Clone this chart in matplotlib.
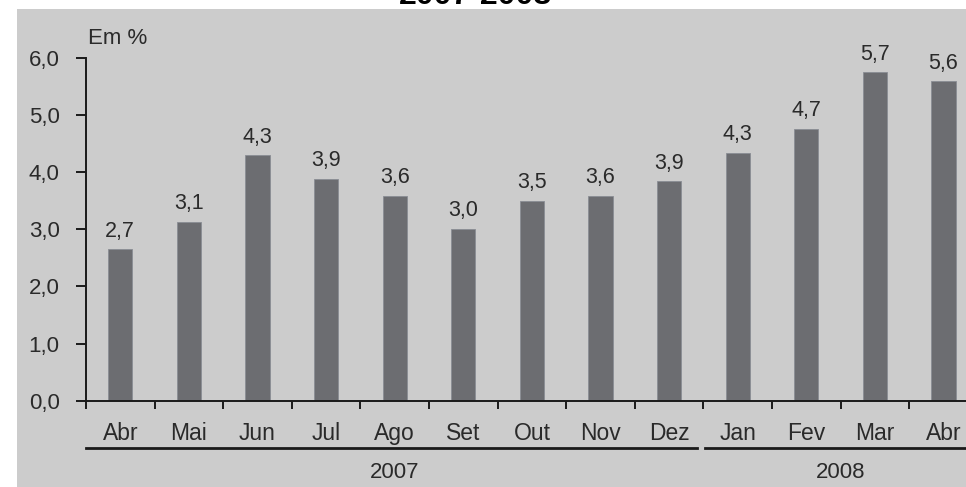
import matplotlib
matplotlib.use("Agg")
import matplotlib.pyplot as plt
from matplotlib.patches import Rectangle
from matplotlib.lines import Line2D
import matplotlib.transforms as mtransforms

plt.rcParams['font.family'] = ['Liberation Sans', 'DejaVu Sans']

# dados
meses = ["Abr", "Mai", "Jun", "Jul", "Ago", "Set", "Out", "Nov", "Dez",
         "Jan", "Fev", "Mar", "Abr"]
valores = [2.65, 3.13, 4.3, 3.89, 3.59, 3.01, 3.5, 3.59, 3.84,
           4.34, 4.76, 5.75, 5.59]
rotulos = ["2,7", "3,1", "4,3", "3,9", "3,6", "3,0", "3,5", "3,6", "3,9",
           "4,3", "4,7", "5,7", "5,6"]
anos = ["2007", "2008"]
n_meses_ano = [9, 4]
yticks = [0, 1, 2, 3, 4, 5, 6]

W, H = 966, 487
fig = plt.figure(figsize=(W / 100, H / 100), dpi=100)
fig.patch.set_facecolor("white")

# fundo cinza
fig.patches.append(Rectangle((17 / W, 0), 1 - 17 / W, 1 - 9 / H,
                             transform=fig.transFigure, facecolor="#cccccc",
                             edgecolor="none", zorder=-5))

# titulo cortado no topo (so a parte de baixo aparece)
fig.text(476 / W, 1 - 4 / H, "2007-2008", ha="center", va="baseline",
         fontsize=23, fontweight="bold", color="black")

step = 68.6
ax = fig.add_axes([86 / W, 1 - 400.7 / H, 13 * step / W, (400.7 - 58) / H])
ax.set_facecolor("none")
ax.set_zorder(2)

x = list(range(len(meses)))
cor_barra = "#6c6d71"
ax.bar(x, valores, width=0.35, color=cor_barra, edgecolor="#8a8d94",
       linewidth=0.6, zorder=2)

for xi, v, r in zip(x, valores, rotulos):
    ax.annotate(r, (xi, v), xytext=(0, 9), textcoords="offset points",
                ha="center", va="baseline", fontsize=15.5, color="#2a2a2a")

ax.set_xlim(-0.5, len(meses) - 0.5)
ax.set_ylim(0, 6)
ax.set_yticks(yticks)
ax.set_yticklabels([f"{t:.1f}".replace(".", ",") for t in yticks])

ax.set_xticks(x)
ax.set_xticklabels(meses)
ax.set_xticks([i - 0.5 for i in range(len(meses) + 1)], minor=True)

for s in ["top", "right"]:
    ax.spines[s].set_visible(False)
for s in ["left", "bottom"]:
    ax.spines[s].set_color("#1a1a1a")
    ax.spines[s].set_linewidth(1.4)

ax.tick_params(axis="y", direction="out", length=7, width=1.4,
               color="#1a1a1a", labelsize=16, labelcolor="#2a2a2a", pad=12)
ax.tick_params(axis="x", which="major", length=0, labelsize=16.5,
               labelcolor="#2a2a2a", pad=15.5)
ax.tick_params(axis="x", which="minor", direction="out", length=6,
               width=1.4, color="#1a1a1a")

ax.text(88 / W, 1 - 39 / H, "Em %", transform=fig.transFigure,
        ha="left", va="center", fontsize=16, color="#2a2a2a")

# linhas e rotulos dos anos
trans = mtransforms.blended_transform_factory(ax.transData, fig.transFigure)
inicio = -0.5
for ano, n in zip(anos, n_meses_ano):
    fim = inicio + n
    x0 = inicio if inicio < 0 else inicio + 0.02
    x1 = fim - 0.09
    fig.lines.append(Line2D([x0, x1], [1 - 448 / H, 1 - 448 / H],
                            transform=trans, color="#1a1a1a", linewidth=2))
    fig.text((inicio + fim) / 2, 1 - 472 / H, ano, transform=trans,
             ha="center", va="center", fontsize=16, color="#2a2a2a")
    inicio = fim

fig.savefig("out.png", dpi=100, facecolor=fig.get_facecolor())
